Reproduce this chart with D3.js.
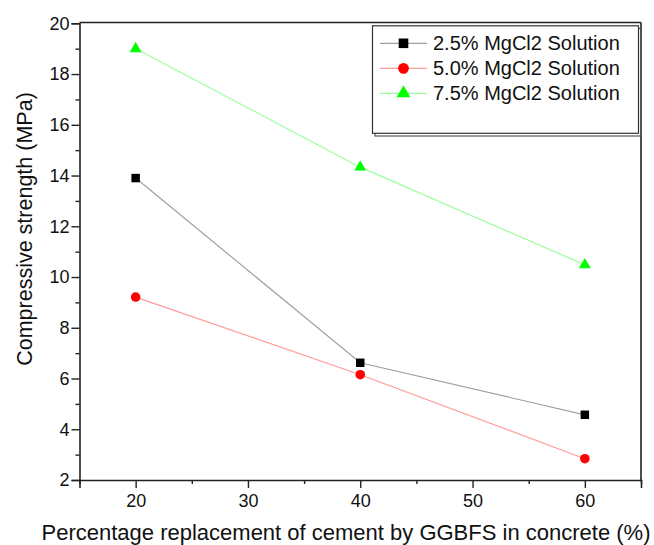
<!DOCTYPE html>
<html><head><meta charset="utf-8">
<script src="https://cdn.jsdelivr.net/npm/d3@7"></script>
<style>body{margin:0;background:#fff}svg{display:block;font-family:"Liberation Sans",Arial,sans-serif}</style>
</head><body><svg id="c" width="654" height="545"></svg>
<script>
const xValues = [20, 40, 60];
const seriesNames = ["2.5% MgCl2 Solution", "5.0% MgCl2 Solution", "7.5% MgCl2 Solution"];
const s25 = [13.9, 6.62, 4.57];
const s50 = [9.21, 6.15, 2.84];
const s75 = [19.0, 14.33, 10.48];
const xTicks = [20, 30, 40, 50, 60];
const yTicks = [2, 4, 6, 8, 10, 12, 14, 16, 18, 20];
const xTitle = "Percentage replacement of cement by GGBFS in concrete (%)";
const yTitle = "Compressive strength (MPa)";

const styles = [
  {line:"#a0a0a0", fill:"#000000", shape:d3.symbolSquare, size:72},
  {line:"#ff9a9a", fill:"#ff0000", shape:d3.symbolCircle, size:72},
  {line:"#9aff9a", fill:"#00ff00", shape:d3.symbolTriangle, size:62}
];
const series = [s25, s50, s75];

const svg = d3.select("#c");
const L = 79.5, R = 641, T = 22.5, B = 480;
const x = d3.scaleLinear().domain([15, 65]).range([L, R]);
const y = d3.scaleLinear().domain([2, 20]).range([B, T + 0.8]);
const axisCol = "#222";

// frame top/right
svg.append("line").attr("x1", L).attr("x2", R).attr("y1", T).attr("y2", T).attr("stroke", axisCol).attr("stroke-width", 1.6);
svg.append("line").attr("x1", R).attr("x2", R).attr("y1", T).attr("y2", B).attr("stroke", axisCol).attr("stroke-width", 1.6);

// x axis
svg.append("g").attr("transform", `translate(0,${B})`)
  .call(d3.axisBottom(x).tickValues(xTicks).tickSize(8).tickPadding(6).tickFormat(d3.format("d")));
svg.append("g").attr("transform", `translate(0,${B})`)
  .call(d3.axisBottom(x).tickValues([15,25,35,45,55,65]).tickSize(4).tickFormat(""))
  .call(g => g.select(".domain").remove());
// y axis
svg.append("g").attr("transform", `translate(${L},0)`)
  .call(d3.axisLeft(y).tickValues(yTicks).tickSize(8).tickPadding(2).tickFormat(d3.format("d")));
svg.append("g").attr("transform", `translate(${L},0)`)
  .call(d3.axisLeft(y).tickValues([3,5,7,9,11,13,15,17,19]).tickSize(4).tickFormat(""))
  .call(g => g.select(".domain").remove());
svg.selectAll(".domain").attr("stroke", axisCol).attr("stroke-width", 1.6);
svg.selectAll(".tick line").attr("stroke", axisCol).attr("stroke-width", 1.4);
svg.selectAll(".tick text").attr("fill", "#111").style("font-size", "18px").style("font-family", '"Liberation Sans",Arial,sans-serif');

// titles
svg.append("text").attr("x", 346).attr("y", 540).attr("text-anchor", "middle")
  .style("font-size", "22px").attr("fill", "#111").text(xTitle);
svg.append("text").attr("transform", "translate(32,229) rotate(-90)").attr("text-anchor", "middle")
  .style("font-size", "21.5px").attr("fill", "#111").text(yTitle);

// lines & markers
const lineGen = d3.line().x((d, i) => x(xValues[i])).y(d => y(d));
series.forEach((s, k) => {
  svg.append("path").attr("d", lineGen(s)).attr("fill", "none").attr("stroke", styles[k].line).attr("stroke-width", 1.2);
});
series.forEach((s, k) => {
  svg.selectAll(null).data(s).enter().append("path")
    .attr("d", d3.symbol().type(styles[k].shape).size(styles[k].size))
    .attr("transform", (d, i) => `translate(${x(xValues[i])},${y(d)})`)
    .attr("fill", styles[k].fill);
});

// legend
const lg = svg.append("g");
lg.append("rect").attr("x", 375).attr("y", 28.5).attr("width", 266).attr("height", 107.5).attr("fill", "none").attr("stroke", "#555").attr("stroke-width", 1.2);
lg.append("rect").attr("x", 372.5).attr("y", 25.8).attr("width", 266).attr("height", 107.5).attr("fill", "#fff").attr("stroke", "#333").attr("stroke-width", 1.2);
seriesNames.forEach((n, k) => {
  const cy = 43.3 + k * 25;
  lg.append("line").attr("x1", 380).attr("x2", 427).attr("y1", cy).attr("y2", cy).attr("stroke", styles[k].line).attr("stroke-width", 1.2);
  lg.append("path").attr("d", d3.symbol().type(styles[k].shape).size(styles[k].size + 20)).attr("transform", `translate(403.5,${cy})`).attr("fill", styles[k].fill);
  lg.append("text").attr("x", 433).attr("y", cy + 7).style("font-size", "20px").attr("fill", "#111").text(n);
});
</script></body></html>
